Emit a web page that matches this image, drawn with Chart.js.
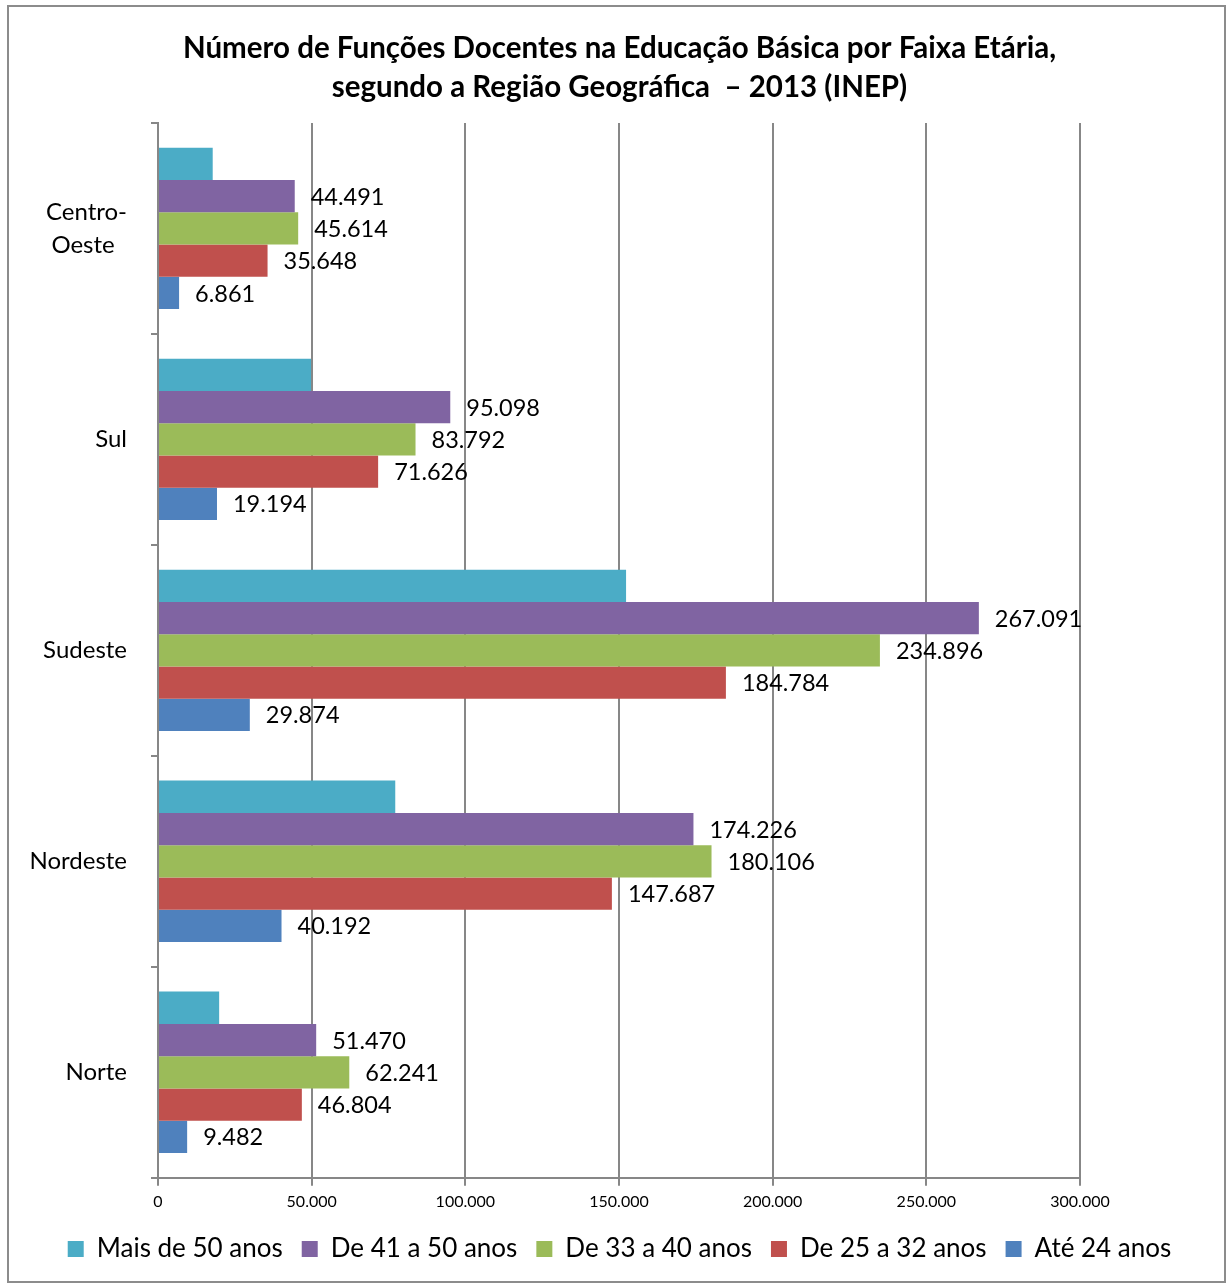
<!DOCTYPE html>
<html>
<head>
<meta charset="utf-8">
<script src="https://cdn.jsdelivr.net/npm/chart.js@4/dist/chart.umd.min.js"></script>
<style>
  html, body { margin: 0; padding: 0; background: #fff; }
  #wrap { width: 1227px; height: 1283px; }
</style>
</head>
<body>
<div id="wrap"><canvas id="faixaChart" width="1227" height="1283"></canvas></div>
<script>
// Regions, top to bottom
const regioes = [['Centro-', 'Oeste  '], 'Sul', 'Sudeste', 'Nordeste', 'Norte'];

// Series (values per region, same order)
const maisDe50 = [17800, 49800, 152300, 77200, 19900];
const de41a50 = [44491, 95098, 267091, 174226, 51470];
const de33a40 = [45614, 83792, 234896, 180106, 62241];
const de25a32 = [35648, 71626, 184784, 147687, 46804];
const ate24 = [6861, 19194, 29874, 40192, 9482];

const serieNomes = ['Mais de 50 anos', 'De 41 a 50 anos', 'De 33 a 40 anos', 'De 25 a 32 anos', 'Até 24 anos'];

// Colors (Office palette)
const colors = {
    cyan: '#4bacc6',
    purple: '#8064a2',
    green: '#9bbb59',
    red: '#c0504d',
    blue: '#4f81bd',
    grid: '#878787'
};

const fontFamily = "Lato, 'Open Sans', sans-serif";

// number format with dot thousands separator
function fmt(v) {
    return v.toString().replace(/\B(?=(\d{3})+(?!\d))/g, '.');
}

// Draws the value next to each bar (not for "Mais de 50 anos")
const valueLabels = {
    id: 'valueLabels',
    afterDatasetsDraw(chart) {
        const ctx = chart.ctx;
        ctx.save();
        ctx.font = '23.5px ' + fontFamily;
        ctx.fillStyle = '#000';
        ctx.textAlign = 'left';
        ctx.textBaseline = 'middle';
        chart.data.datasets.forEach((ds, i) => {
            if (i === 0) return;
            chart.getDatasetMeta(i).data.forEach((bar, j) => {
                ctx.fillText(fmt(ds.data[j]), bar.x + 16, bar.y + 1);
            });
        });
        ctx.restore();
    }
};

// Outer frame around the chart
const frame = {
    id: 'frame',
    beforeDraw(chart) {
        const ctx = chart.ctx;
        ctx.save();
        ctx.fillStyle = '#fff';
        ctx.fillRect(0, 0, chart.width, chart.height);
        ctx.strokeStyle = '#8c8c8c';
        ctx.lineWidth = 2;
        ctx.strokeRect(8, 6, 1217, 1276);
        ctx.restore();
    }
};

const ctxFaixa = document.getElementById('faixaChart').getContext('2d');
new Chart(ctxFaixa, {
    type: 'bar',
    data: {
        labels: regioes,
        datasets: [
            { label: serieNomes[0], data: maisDe50, backgroundColor: colors.cyan },
            { label: serieNomes[1], data: de41a50, backgroundColor: colors.purple },
            { label: serieNomes[2], data: de33a40, backgroundColor: colors.green },
            { label: serieNomes[3], data: de25a32, backgroundColor: colors.red },
            { label: serieNomes[4], data: ate24, backgroundColor: colors.blue }
        ]
    },
    options: {
        indexAxis: 'y',
        responsive: false,
        animation: false,
        barPercentage: 1,
        categoryPercentage: 0.765,
        layout: { padding: { left: 14, right: 2, top: 8, bottom: 11 } },
        plugins: {
            title: {
                display: true,
                text: ['Número de Funções Docentes na Educação Básica por Faixa Etária,', 'segundo a Região Geográfica  – 2013 (INEP)'],
                color: '#000',
                font: { family: fontFamily, size: 29.5, weight: 'bold', lineHeight: 1.32 },
                padding: { top: 21, bottom: 16 }
            },
            legend: {
                position: 'bottom',
                labels: {
                    color: '#000',
                    boxWidth: 16,
                    boxHeight: 16,
                    padding: 19,
                    font: { family: fontFamily, size: 26 }
                }
            },
            tooltip: { enabled: false }
        },
        scales: {
            x: {
                min: 0,
                max: 300000,
                ticks: {
                    stepSize: 50000,
                    color: '#000',
                    padding: 6,
                    font: { family: fontFamily, size: 16 },
                    callback: (v) => fmt(v)
                },
                grid: { color: colors.grid, lineWidth: 2, tickLength: 8 },
                border: { color: colors.grid, width: 2 }
            },
            y: {
                afterFit: (scale) => { scale.width = 144; },
                ticks: {
                    color: '#000',
                    padding: 24,
                    font: { family: fontFamily, size: 24, lineHeight: 1.38 }
                },
                grid: { drawOnChartArea: false, color: colors.grid, lineWidth: 2, tickLength: 7 },
                border: { color: colors.grid, width: 2 }
            },
            // empty spacer on the right so the plot ends at 300.000 while title/legend span the frame
            yRight: {
                type: 'linear',
                position: 'right',
                ticks: { display: false },
                grid: { display: false },
                border: { display: false },
                afterFit: (scale) => { scale.width = 145; }
            }
        }
    },
    plugins: [frame, valueLabels]
});
</script>
</body>
</html>
